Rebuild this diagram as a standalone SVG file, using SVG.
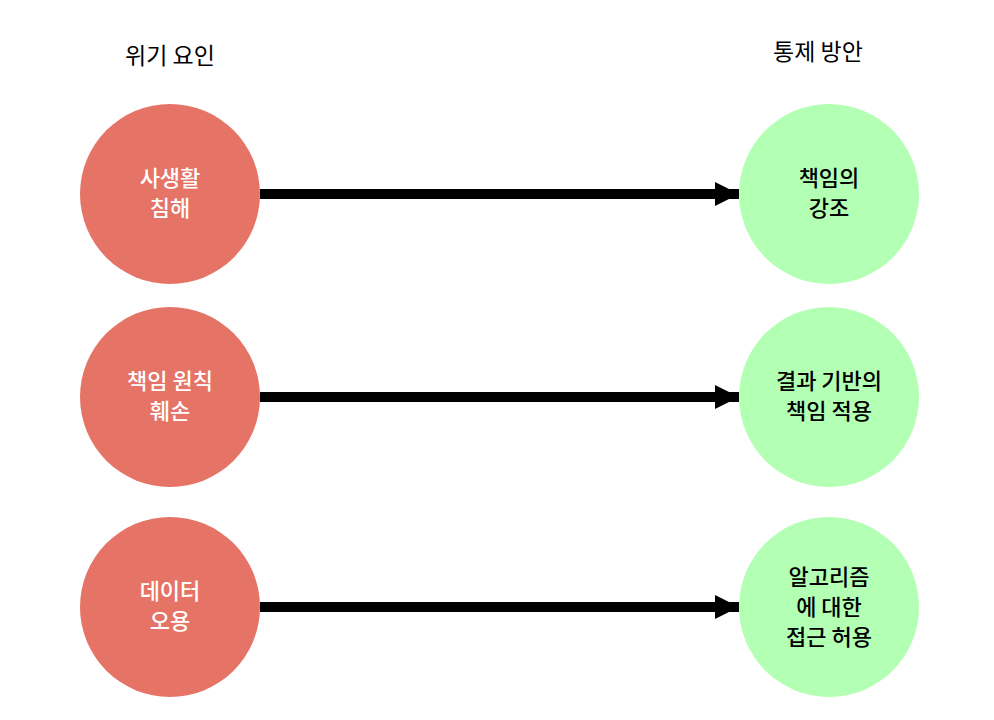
<svg xmlns="http://www.w3.org/2000/svg" width="994" height="720" viewBox="0 0 994 720">
<defs>
<style>
.risk{fill:#E57366}
.ctrl{fill:#B3FFB3}
.t{font-family:"Noto Sans CJK KR","Noto Sans",sans-serif;font-size:22px;font-weight:500;text-anchor:middle}
.tw{fill:#ffffff}
.tb{fill:#000000}
.h{font-family:"Noto Sans CJK KR",sans-serif;font-size:23px;text-anchor:middle;fill:#000}
.c{stroke:#000;stroke-width:10;fill:none}
</style>
<marker id="ah" markerWidth="24" markerHeight="24" viewBox="0 0 24 24" refX="24" refY="12" orient="auto" markerUnits="userSpaceOnUse">
<path d="M0,0 L24,12 L0,24 Z" fill="#000"/>
</marker>
</defs>
<rect width="994" height="720" fill="#fff"/>
<text class="h" x="170" y="64">위기 요인</text>
<text class="h" x="818" y="60">통제 방안</text>
<g id="connectors">
<line class="c" x1="260" y1="194" x2="739" y2="194" marker-end="url(#ah)"/>
<line class="c" x1="260" y1="397" x2="739" y2="397" marker-end="url(#ah)"/>
<line class="c" x1="260" y1="607" x2="739" y2="607" marker-end="url(#ah)"/>
</g>
<g id="r1"><circle class="risk" cx="170" cy="194" r="90"/><text class="t tw" x="170" y="186">사생활</text><text class="t tw" x="170" y="216">침해</text></g>
<g id="r2"><circle class="risk" cx="170" cy="397" r="90"/><text class="t tw" x="170" y="389">책임 원칙</text><text class="t tw" x="170" y="419">훼손</text></g>
<g id="r3"><circle class="risk" cx="170" cy="607" r="90"/><text class="t tw" x="170" y="599">데이터</text><text class="t tw" x="170" y="629">오용</text></g>
<g id="c1"><circle class="ctrl" cx="829" cy="194" r="90"/><text class="t tb" x="829" y="186">책임의</text><text class="t tb" x="829" y="216">강조</text></g>
<g id="c2"><circle class="ctrl" cx="829" cy="397" r="90"/><text class="t tb" x="829" y="389">결과 기반의</text><text class="t tb" x="829" y="419">책임 적용</text></g>
<g id="c3"><circle class="ctrl" cx="829" cy="607" r="90"/><text class="t tb" x="829" y="585">알고리즘</text><text class="t tb" x="829" y="615">에 대한</text><text class="t tb" x="829" y="645">접근 허용</text></g>
</svg>
